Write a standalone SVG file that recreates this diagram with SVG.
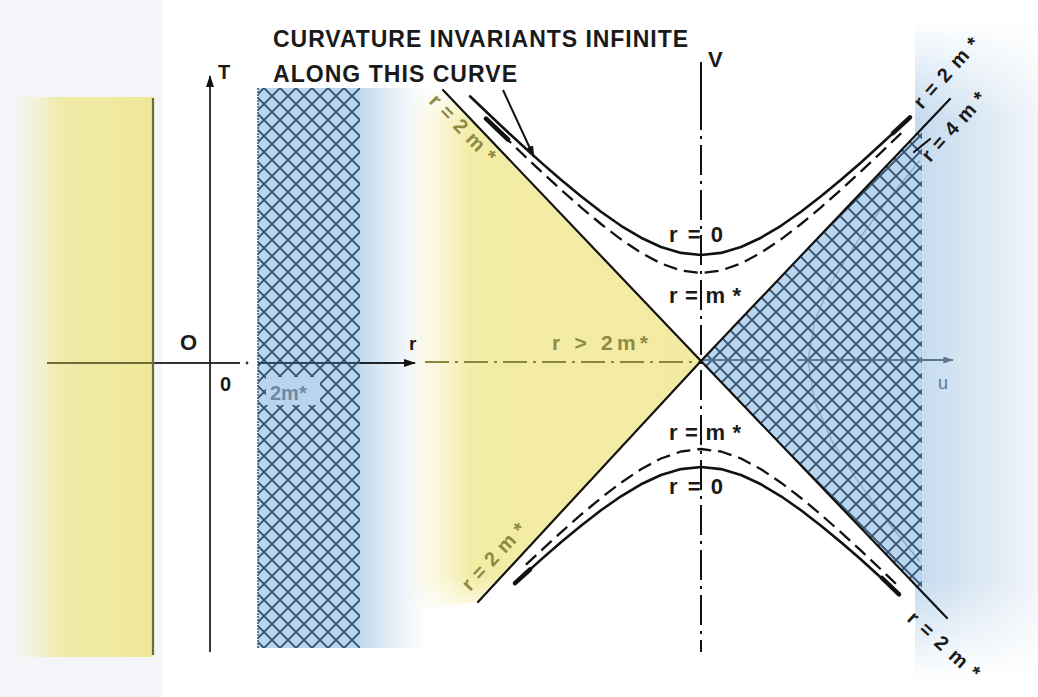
<svg xmlns="http://www.w3.org/2000/svg" width="1038" height="697" viewBox="0 0 1038 697">
<style>
.lbl{font-family:"Liberation Sans",Arial,sans-serif;font-weight:bold;fill:#1a1a1a}
.olv{font-family:"Liberation Sans",Arial,sans-serif;font-weight:bold;fill:#8d8a45}
.ln{stroke:#111;stroke-width:2.2;fill:none;stroke-linecap:round}
.hyp{stroke:#111;stroke-width:2.6;fill:none;stroke-linejoin:round;stroke-linecap:round}
.dsh{stroke:#111;stroke-width:2.3;fill:none;stroke-dasharray:14 7;stroke-linejoin:round}
.thk{stroke:#111;stroke-width:4.5;fill:none;stroke-linecap:round}
</style>
<defs>
<pattern id="hatch" patternUnits="userSpaceOnUse" width="16" height="16">
<path d="M0,0 L16,16 M16,0 L0,16" stroke="#34526f" stroke-width="1.9" fill="none"/>
</pattern>
<linearGradient id="yStrip" x1="0" y1="0" x2="1" y2="0">
<stop offset="0" stop-color="#f4efc0" stop-opacity="0"/>
<stop offset="0.35" stop-color="#f1eaa8"/>
<stop offset="1" stop-color="#efe899"/>
</linearGradient>
<linearGradient id="yTri" gradientUnits="userSpaceOnUse" x1="405" y1="0" x2="701" y2="0">
<stop offset="0" stop-color="#f5f0c0" stop-opacity="0"/>
<stop offset="0.22" stop-color="#f3eca6"/>
<stop offset="1" stop-color="#f3eba2"/>
</linearGradient>
<linearGradient id="triV" gradientUnits="userSpaceOnUse" x1="0" y1="80" x2="0" y2="620">
<stop offset="0" stop-color="#fff" stop-opacity="0"/>
<stop offset="0.08" stop-color="#fff"/>
<stop offset="0.92" stop-color="#fff"/>
<stop offset="1" stop-color="#fff" stop-opacity="0"/>
</linearGradient>
<mask id="mTri"><rect x="380" y="70" width="330" height="560" fill="url(#triV)"/></mask>
<linearGradient id="bFade" x1="0" y1="0" x2="1" y2="0">
<stop offset="0" stop-color="#c0d8ed"/>
<stop offset="1" stop-color="#dfeaf4" stop-opacity="0"/>
</linearGradient>
<linearGradient id="bRight" x1="0" y1="0" x2="1" y2="0">
<stop offset="0" stop-color="#c3daee"/>
<stop offset="0.5" stop-color="#dae7f3"/>
<stop offset="1" stop-color="#f1f5f9"/>
</linearGradient>
<linearGradient id="vFade" x1="0" y1="0" x2="0" y2="1">
<stop offset="0" stop-color="#fff" stop-opacity="0"/>
<stop offset="0.15" stop-color="#fff"/>
<stop offset="0.85" stop-color="#fff"/>
<stop offset="1" stop-color="#fff" stop-opacity="0"/>
</linearGradient>
<mask id="mRight"><rect x="915" y="20" width="123" height="660" fill="url(#vFade)"/></mask>
<clipPath id="cRight"><polygon points="701,361 922,129 922,592"/></clipPath>
<marker id="arr" viewBox="0 0 12 8" refX="11" refY="4" markerWidth="12" markerHeight="8" markerUnits="userSpaceOnUse" orient="auto">
<path d="M0,0 L12,4 L0,8 z" fill="#111"/>
</marker>
<marker id="arrB" viewBox="0 0 12 8" refX="11" refY="4" markerWidth="11" markerHeight="7" markerUnits="userSpaceOnUse" orient="auto">
<path d="M0,0 L12,4 L0,8 z" fill="#5a7893"/>
</marker>
</defs>

<rect width="1038" height="697" fill="#ffffff"/>
<rect x="0" y="0" width="162" height="697" fill="#f3f5f8"/>

<g id="region-left-yellow">
<rect x="12" y="97" width="141" height="560" fill="url(#yStrip)"/>
</g>

<g id="region-left-blue">
<rect x="360" y="88" width="70" height="560" fill="url(#bFade)"/>
<rect x="258" y="88" width="102" height="560" fill="#b9d6ef"/>
<rect x="258" y="88" width="102" height="560" fill="url(#hatch)"/>
<line x1="258" y1="88" x2="258" y2="648" stroke="#3f5e7d" stroke-width="1.6" stroke-dasharray="2 1"/>
<rect x="266" y="377" width="54" height="28" fill="#b9d4ec"/>
</g>

<g id="region-yellow-triangle">
<polygon points="405,88 443,90 701,361 478,602 405,612" fill="url(#yTri)" mask="url(#mTri)"/>
</g>

<g id="region-right-blue">
<rect x="915" y="20" width="123" height="660" fill="url(#bRight)" mask="url(#mRight)"/>
<polygon points="701,361 922,129 922,592" fill="#bad6ee"/>
<rect x="700" y="120" width="230" height="480" fill="url(#hatch)" clip-path="url(#cRight)"/>
<path d="M919.5,161 L887,201 L857.6,241 L832,281 L814.6,321 L808,361 L814.6,401 L832,441 L857.6,481 L887,521 L919.5,561" stroke="#4f6f8f" stroke-width="1.3" fill="none" opacity="0.45"/>
</g>

<g id="axes">
<line x1="47" y1="363" x2="153" y2="363" stroke="#6e6c38" stroke-width="2"/>
<line x1="153" y1="363" x2="240" y2="363" stroke="#333" stroke-width="2"/>
<circle cx="247" cy="363" r="1.4" fill="#333"/>
<line x1="258" y1="363" x2="360" y2="363" stroke="#2d4660" stroke-width="2"/>
<line x1="360" y1="363" x2="415" y2="363" stroke="#222" stroke-width="2" marker-end="url(#arr)"/>
<line x1="425" y1="362" x2="699" y2="362" stroke="#8a8640" stroke-width="2" stroke-dasharray="24 6 3 6"/>
<line x1="703" y1="360" x2="770" y2="360" stroke="#5a7893" stroke-width="1.8"/>
<line x1="797" y1="360" x2="953" y2="360" stroke="#5a7893" stroke-width="1.8" marker-end="url(#arrB)"/>
<line x1="153" y1="98" x2="153" y2="655" stroke="#6e6c38" stroke-width="2.2"/>
<line x1="210" y1="652" x2="210" y2="76" stroke="#222" stroke-width="1.8" marker-end="url(#arr)"/>
<line x1="701" y1="62" x2="701" y2="100" stroke="#111" stroke-width="2"/>
<line x1="701" y1="100" x2="701" y2="652" stroke="#111" stroke-width="2" stroke-dasharray="30 6 3 6"/>
</g>

<g id="connectors">
<line class="ln" x1="443" y1="90" x2="701" y2="361"/>
<line class="ln" x1="701" y1="361" x2="478" y2="602"/>
<line class="ln" x1="701" y1="361" x2="950" y2="99"/>
<line class="ln" x1="701" y1="361" x2="947" y2="618"/>
<line class="ln" x1="914" y1="152" x2="930" y2="139"/>
<path class="hyp" d="M470,96.3 L481,106.8 L501,125.8 L521,144.3 L541,162.4 L561,179.8 L581,196.3 L601,211.8 L621,225.8 L641,237.7 L661,247 L681,252.9 L701,255 L721,252.9 L741,247 L761,237.7 L781,225.8 L801,211.8 L821,196.3 L841,179.8 L861,162.4 L881,144.3 L901,125.8 L910,117.3"/>
<path class="hyp" d="M515,583.2 L521,577.7 L541,559.6 L561,542.2 L581,525.7 L601,510.2 L621,496.3 L641,484.3 L661,475 L681,469.1 L701,467 L721,469.1 L741,475 L761,484.3 L781,496.3 L801,510.2 L821,525.7 L841,542.2 L861,559.6 L881,577.7 L899,594.4"/>
<path class="dsh" d="M486,118.7 L501,133.3 L521,152.5 L541,171.4 L561,189.7 L581,207.3 L601,224 L621,239.3 L641,252.8 L661,263.5 L681,270.5 L701,273 L721,270.5 L741,263.5 L761,252.8 L781,239.3 L801,224 L821,207.3 L841,189.7 L861,171.4 L881,152.5 L906,128.5"/>
<path class="dsh" d="M526,564.7 L541,550.7 L561,532.3 L581,514.7 L601,498 L621,482.7 L641,469.2 L661,458.5 L681,451.5 L701,449 L721,451.5 L741,458.5 L761,469.2 L781,482.7 L801,498 L821,514.7 L841,532.3 L861,550.7 L881,569.5 L896,583.9"/>
<path class="thk" d="M486,118.7 L508,139.5"/>
<path class="thk" d="M893,133.2 L910,117.3"/>
<path class="thk" d="M515,583.2 L530,569.5"/>
<path class="thk" d="M882,578 L899,594.4"/>
<line x1="503" y1="90" x2="534" y2="157" stroke="#111" stroke-width="2" marker-end="url(#arr)"/>
</g>

<g id="labels">
<text class="lbl" x="273" y="47" font-size="23" textLength="415" lengthAdjust="spacing">CURVATURE INVARIANTS INFINITE</text>
<text class="lbl" x="273" y="82" font-size="23" textLength="244" lengthAdjust="spacing">ALONG THIS CURVE</text>
<text class="lbl" x="708" y="67" font-size="22">V</text>
<text class="lbl" x="218" y="79" font-size="20">T</text>
<text class="lbl" x="180" y="350" font-size="22">O</text>
<text class="lbl" x="220" y="391" font-size="20">0</text>
<text class="lbl" x="409" y="350" font-size="19">r</text>
<text x="938" y="389" font-size="18" font-family="Liberation Sans,Arial,sans-serif" fill="#5a7893">u</text>
<text x="270" y="400" font-size="20" font-family="Liberation Sans,Arial,sans-serif" font-weight="bold" fill="#6c89a6">2m*</text>
<text class="olv" x="552" y="350" font-size="21" textLength="96" lengthAdjust="spacing">r &gt; 2m*</text>
<text class="lbl" x="669" y="242" font-size="22" textLength="54" lengthAdjust="spacing">r=0</text>
<text class="lbl" x="669" y="303" font-size="22" textLength="72" lengthAdjust="spacing">r=m*</text>
<text class="lbl" x="669" y="440" font-size="22" textLength="72" lengthAdjust="spacing">r=m*</text>
<text class="lbl" x="669" y="494" font-size="22" textLength="54" lengthAdjust="spacing">r=0</text>
<text class="olv" font-size="20" textLength="86" lengthAdjust="spacing" transform="translate(428,102) rotate(46)">r=2m*</text>
<text class="olv" font-size="20" textLength="84" lengthAdjust="spacing" transform="translate(470,592) rotate(-47)">r=2m*</text>
<text class="lbl" font-size="20" textLength="88" lengthAdjust="spacing" transform="translate(922,110) rotate(-48)">r=2m*</text>
<text class="lbl" font-size="20" textLength="86" lengthAdjust="spacing" transform="translate(930,163) rotate(-48)">r=4m*</text>
<text class="lbl" font-size="20" textLength="90" lengthAdjust="spacing" transform="translate(906,620) rotate(42)">r=2m*</text>
</g>
</svg>
